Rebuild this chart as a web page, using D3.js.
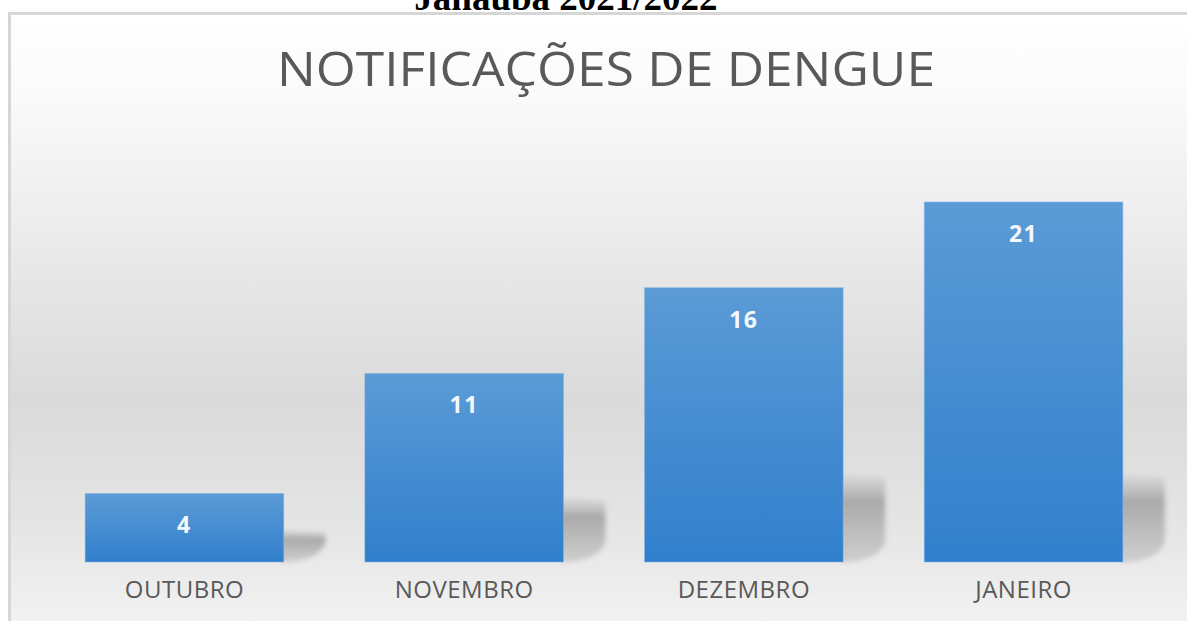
<!DOCTYPE html>
<html>
<head>
<meta charset="utf-8">
<script src="https://d3js.org/d3.v7.min.js"></script>
<style>
    body { margin: 0; background: white; overflow: hidden; }
</style>
</head>
<body>
<div id="svgContainer"></div>
<script>
const months = ["OUTUBRO", "NOVEMBRO", "DEZEMBRO", "JANEIRO"]
const cases = [4, 11, 16, 21]
const chartTitle = "NOTIFICAÇÕES DE DENGUE"
const pageHeading = "Janaúba 2021/2022"

function drawChart() {
    let W = 1187, H = 621
    let root = d3.select("#svgContainer")
        .append("svg")
        .attr("width", W)
        .attr("height", H)

    let defs = root.append("defs")

    // background of the chart area: white -> gray -> white (floor)
    let bg = defs.append("linearGradient").attr("id", "bgGrad")
        .attr("x1", 0).attr("y1", 0).attr("x2", 0).attr("y2", 1)
    let bgStops = [[0, "#ffffff"], [0.12, "#fafafa"], [0.55, "#dadada"], [0.72, "#e4e4e4"], [0.885, "#f3f3f3"], [0.9, "#fbfbfb"], [1, "#ffffff"]]
    bg.selectAll("stop").data(bgStops).enter().append("stop")
        .attr("offset", d => d[0]).attr("stop-color", d => d[1])

    let barGrad = defs.append("linearGradient").attr("id", "barGrad")
        .attr("x1", 0).attr("y1", 0).attr("x2", 0).attr("y2", 1)
    barGrad.append("stop").attr("offset", 0).attr("stop-color", "#5b9bd6")
    barGrad.append("stop").attr("offset", 1).attr("stop-color", "#317fcc")

    let shadowGrad = defs.append("linearGradient").attr("id", "shadowGrad")
        .attr("x1", 0).attr("y1", 0).attr("x2", 0).attr("y2", 1)
    shadowGrad.append("stop").attr("offset", 0).attr("stop-color", "#c4c4c4").attr("stop-opacity", 0.3)
    shadowGrad.append("stop").attr("offset", 0.3).attr("stop-color", "#a6a6a6").attr("stop-opacity", 0.95)
    shadowGrad.append("stop").attr("offset", 1).attr("stop-color", "#c2c2c2").attr("stop-opacity", 0.7)

    defs.append("filter").attr("id", "blur").attr("x", "-50%").attr("y", "-50%")
        .attr("width", "200%").attr("height", "200%")
        .append("feGaussianBlur").attr("stdDeviation", 2.5)

    // heading above the chart, mostly cut off
    root.append("text")
        .attr("x", 566).attr("y", 10)
        .attr("text-anchor", "middle")
        .attr("font-family", "'Liberation Serif', 'Times New Roman', serif")
        .attr("font-weight", "bold")
        .attr("font-size", 37)
        .attr("fill", "#000")
        .text(pageHeading)

    root.append("rect")
        .attr("x", 9.5).attr("y", 13.5)
        .attr("width", 1250).attr("height", 700)
        .attr("fill", "url(#bgGrad)")
        .attr("stroke", "#d6d6d6").attr("stroke-width", 3)

    let title = root.append("text")
        .attr("x", 606).attr("y", 86)
        .attr("text-anchor", "middle")
        .attr("font-family", "'Open Sans', sans-serif")
        .attr("font-size", 47)
        .attr("fill", "#595959")
        .text(chartTitle)
    title.attr("textLength", 658).attr("lengthAdjust", "spacingAndGlyphs")

    let baseY = 562
    let scX = d3.scaleBand().domain(months).range([46, 1162]).paddingInner(0.29).paddingOuter(0.14)
    let scY = d3.scaleLinear().domain([0, 25]).range([baseY, baseY - 25 * 360 / 21])

    let data = months.map((m, i) => ({month: m, value: cases[i]}))

    // perspective-like shadows to the right of the bars
    root.append("g").attr("filter", "url(#blur)")
        .selectAll("path").data(data).enter()
        .append("path")
        .attr("fill", "url(#shadowGrad)")
        .attr("d", d => {
            let x0 = scX(d.month) + scX.bandwidth() - 4
            let x1 = x0 + 46
            let h = Math.min((baseY - scY(d.value)) * 0.27 + 14, 88)
            let top = baseY - h
            return `M${x0},${top} L${x1},${top + 4} L${x1},${baseY - 20} Q${x1 - 6},${baseY - 3} ${x0 + 10},${baseY} L${x0},${baseY} Z`
        })

    let bars = root.append("g")
    bars.selectAll("rect").data(data).enter()
        .append("rect")
        .attr("x", d => scX(d.month))
        .attr("y", d => scY(d.value))
        .attr("width", scX.bandwidth())
        .attr("height", d => baseY - scY(d.value))
        .attr("fill", "url(#barGrad)")
        .attr("stroke", "#7fb3e6").attr("stroke-width", 0.8).attr("stroke-opacity", 0.6)

    bars.selectAll("text").data(data).enter()
        .append("text")
        .attr("x", d => scX(d.month) + scX.bandwidth() / 2)
        .attr("y", d => scY(d.value) + 40)
        .attr("text-anchor", "middle")
        .attr("font-family", "'Open Sans', sans-serif")
        .attr("font-weight", "bold")
        .attr("font-size", 23)
        .attr("letter-spacing", 1.5)
        .attr("fill", "#f4f8fc")
        .text(d => d.value)

    let axis = d3.axisBottom(scX).tickSize(0).tickPadding(0)
    let axG = root.append("g").attr("transform", `translate(0, ${baseY})`).call(axis)
    axG.select(".domain").remove()
    axG.selectAll("text")
        .attr("y", 36)
        .attr("dy", 0)
        .attr("font-family", "'Open Sans', sans-serif")
        .attr("font-size", 24)
        .attr("letter-spacing", 0.5)
        .attr("fill", "#595959")
}

drawChart()
</script>
</body>
</html>
